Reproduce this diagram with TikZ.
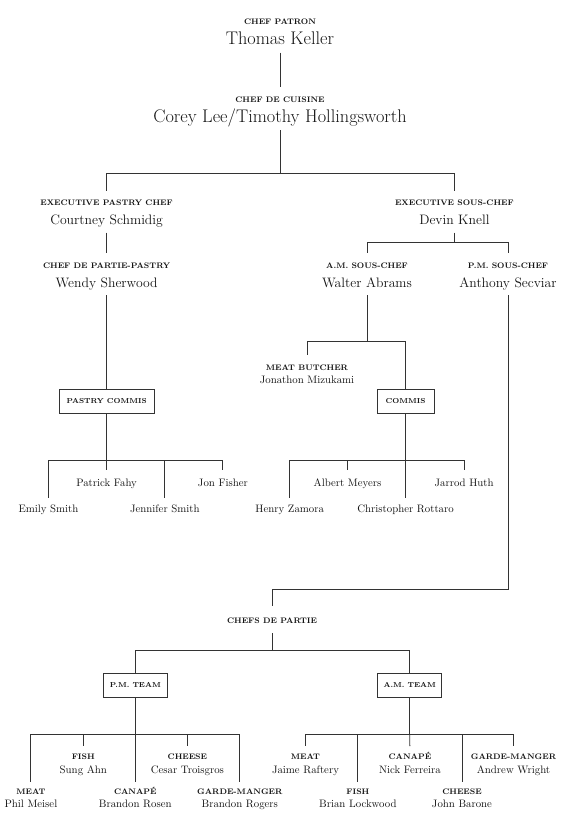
\documentclass[tikz,border=0pt]{standalone}
\usepackage{fontspec}
\usepackage{tikz}

\definecolor{ink}{HTML}{141414}
\definecolor{linegray}{HTML}{333333}
\newcommand{\rolefont}{\fontsize{8}{9}\selectfont\bfseries\addfontfeature{LetterSpace=40}}
\newcommand{\crewfont}{\fontsize{7.2}{8}\selectfont\bfseries\addfontfeature{LetterSpace=20}}

\tikzstyle{role} = [font=\rolefont, text=ink, inner sep=0pt, anchor=base, text height=5.5pt, text depth=0pt]
\tikzstyle{chief} = [font=\fontsize{18.3}{21}\selectfont, text=ink, inner sep=0pt, anchor=base,
    text height=12.5pt, text depth=4pt]
\tikzstyle{lead} = [font=\fontsize{13.7}{16}\selectfont, text=ink, inner sep=0pt, anchor=base,
    text height=10pt, text depth=3.5pt]
\tikzstyle{staff} = [font=\fontsize{10.8}{13}\selectfont, text=ink, inner sep=0pt, anchor=base,
    text height=7.5pt, text depth=3pt]
\tikzstyle{crew} = [draw=linegray, line width=0.8pt, font=\crewfont, text=ink, inner sep=0pt]
\tikzstyle{link} = [draw=linegray, line width=0.9pt]

\begin{document}
\begin{tikzpicture}[x=1pt, y=-1pt]
\useasboundingbox (0,0) rectangle (560,825);

% chef patron, chef de cuisine
\node[role] (patronT) at (280,24.5) {CHEF PATRON};
\node[chief] (patron) at (280,44.3) {Thomas Keller};
\node[role] (cuisineT) at (280,102.5) {CHEF DE CUISINE};
\node[chief] (cuisine) at (280,122.7) {Corey Lee/Timothy Hollingsworth};

% pastry side
\node[role] (pastryT) at (106.6,205.5) {EXECUTIVE PASTRY CHEF};
\node[lead] (pastry) at (106.6,224) {Courtney Schmidig};
\node[role] (partieT) at (106.6,268.2) {CHEF DE PARTIE-PASTRY};
\node[lead] (partie) at (106.6,287) {Wendy Sherwood};
\node[crew, minimum width=94.7pt, minimum height=24pt] (pcommis) at (106.6,401.3) {PASTRY COMMIS};
\node[staff] (patrick) at (106.6,486) {Patrick Fahy};
\node[staff] (jon) at (222.9,486) {Jon Fisher};
\node[staff] (emily) at (48.5,512.3) {Emily Smith};
\node[staff] (jennifer) at (164.8,512.3) {Jennifer Smith};

% kitchen side
\node[role] (sousT) at (454.4,205.5) {EXECUTIVE SOUS-CHEF};
\node[lead] (sous) at (454.4,224) {Devin Knell};
\node[role] (amT) at (367,268.2) {A.M. SOUS-CHEF};
\node[lead] (am) at (367,287) {Walter Abrams};
\node[role] (pmT) at (508,268.2) {P.M. SOUS-CHEF};
\node[lead] (pm) at (508,287) {Anthony Secviar};
\node[role] (butcherT) at (307,370.2) {MEAT BUTCHER};
\node[staff] (butcher) at (307,383) {Jonathon Mizukami};
\node[crew, minimum width=57.4pt, minimum height=24pt] (commis) at (405.6,401.3) {COMMIS};
\node[staff] (albert) at (347.5,486) {Albert Meyers};
\node[staff] (jarrod) at (464.1,486) {Jarrod Huth};
\node[staff] (henry) at (289.7,512.3) {Henry Zamora};
\node[staff] (christopher) at (405.6,512.3) {Christopher Rottaro};

% chefs de partie
\node[role] (allT) at (272,623.2) {CHEFS DE PARTIE};
\node[crew, minimum width=64.6pt, minimum height=23.7pt] (pmteam) at (135.3,685.2) {P.M. TEAM};
\node[crew, minimum width=64pt, minimum height=23.7pt] (amteam) at (409.7,685.2) {A.M. TEAM};

\node[role] (meatP) at (30.9,794.8) {MEAT};
\node[staff] (phil) at (30.9,807.7) {Phil Meisel};
\node[role] (fishP) at (83.3,759.2) {FISH};
\node[staff] (sung) at (83.3,773.3) {Sung Ahn};
\node[role] (canapeP) at (135.3,794.8) {CANAPÉ};
\node[staff] (rosen) at (135.3,807.7) {Brandon Rosen};
\node[role] (cheeseP) at (187.4,759.2) {CHEESE};
\node[staff] (cesar) at (187.4,773.3) {Cesar Troisgros};
\node[role] (gardeP) at (239.8,794.8) {GARDE-MANGER};
\node[staff] (rogers) at (239.8,807.7) {Brandon Rogers};

\node[role] (meatA) at (305.5,759.2) {MEAT};
\node[staff] (jaime) at (305.5,773.3) {Jaime Raftery};
\node[role] (fishA) at (357.9,794.8) {FISH};
\node[staff] (brian) at (357.9,807.7) {Brian Lockwood};
\node[role] (canapeA) at (409.9,759.2) {CANAPÉ};
\node[staff] (nick) at (409.9,773.3) {Nick Ferreira};
\node[role] (cheeseA) at (462,794.8) {CHEESE};
\node[staff] (john) at (462,807.7) {John Barone};
\node[role] (gardeA) at (513.5,759.2) {GARDE-MANGER};
\node[staff] (andrew) at (513.5,773.3) {Andrew Wright};

% connectors
\coordinate (cuisineJ) at (280,173.7);
\coordinate (sousJ) at (454.4,242.7);
\coordinate (amJ) at (367,341.7);
\coordinate (pcommisJ) at (106.6,460);
\coordinate (commisJ) at (405.6,460);
\coordinate (pmJ) at (508,589);
\coordinate (allJ) at (272,650.7);
\coordinate (pmteamJ) at (135.3,734.7);
\coordinate (amteamJ) at (409.7,734.7);

\draw[link, shorten <=4pt, shorten >=10.3pt] (patron) -- (cuisineT);
\draw[link, shorten <=3.3pt] (cuisine) -- (cuisineJ);
\draw[link, shorten >=9.3pt] (cuisineJ) -| (pastryT);
\draw[link, shorten >=9.3pt] (cuisineJ) -| (sousT);

\draw[link, shorten <=4.8pt, shorten >=9.4pt] (pastry) -- (partieT);
\draw[link, shorten <=4.5pt] (partie) -- (pcommis);
\draw[link] (pcommis) -- (pcommisJ);
\draw[link, shorten >=8.5pt] (pcommisJ) -- (patrick);
\draw[link, shorten >=8.5pt] (pcommisJ) -| (jon);
\draw[link, shorten >=6.5pt] (pcommisJ) -| (emily);
\draw[link, shorten >=6.5pt] (pcommisJ) -| (jennifer);

\draw[link, shorten <=4.8pt] (sous) -- (sousJ);
\draw[link, shorten >=9.4pt] (sousJ) -| (amT);
\draw[link, shorten >=9.4pt] (sousJ) -| (pmT);
\draw[link, shorten <=4.5pt] (am) -- (amJ);
\draw[link, shorten >=9.7pt] (amJ) -| (butcherT);
\draw[link] (amJ) -| (commis);
\draw[link] (commis) -- (commisJ);
\draw[link, shorten >=8.5pt] (commisJ) -| (albert);
\draw[link, shorten >=8.5pt] (commisJ) -| (jarrod);
\draw[link, shorten >=6.5pt] (commisJ) -| (henry);
\draw[link, shorten >=6.5pt] (commisJ) -- (christopher);

\draw[link, shorten <=4.5pt, shorten >=12pt] (pm) -- (pmJ) -| (allT);
\draw[link, shorten <=10pt] (allT) -- (allJ);
\draw[link] (allJ) -| (pmteam);
\draw[link] (allJ) -| (amteam);

\draw[link] (pmteam) -- (pmteamJ);
\draw[link, shorten >=7.5pt] (pmteamJ) -| (meatP);
\draw[link, shorten >=7.5pt] (pmteamJ) -| (fishP);
\draw[link, shorten >=7.5pt] (pmteamJ) -- (canapeP);
\draw[link, shorten >=7.5pt] (pmteamJ) -| (cheeseP);
\draw[link, shorten >=7.5pt] (pmteamJ) -| (gardeP);

\draw[link] (amteam) -- (amteamJ);
\draw[link, shorten >=7.5pt] (amteamJ) -| (meatA);
\draw[link, shorten >=7.5pt] (amteamJ) -| (fishA);
\draw[link, shorten >=7.5pt] (amteamJ) -- (canapeA);
\draw[link, shorten >=7.5pt] (amteamJ) -| (cheeseA);
\draw[link, shorten >=7.5pt] (amteamJ) -| (gardeA);
\end{tikzpicture}
\end{document}
